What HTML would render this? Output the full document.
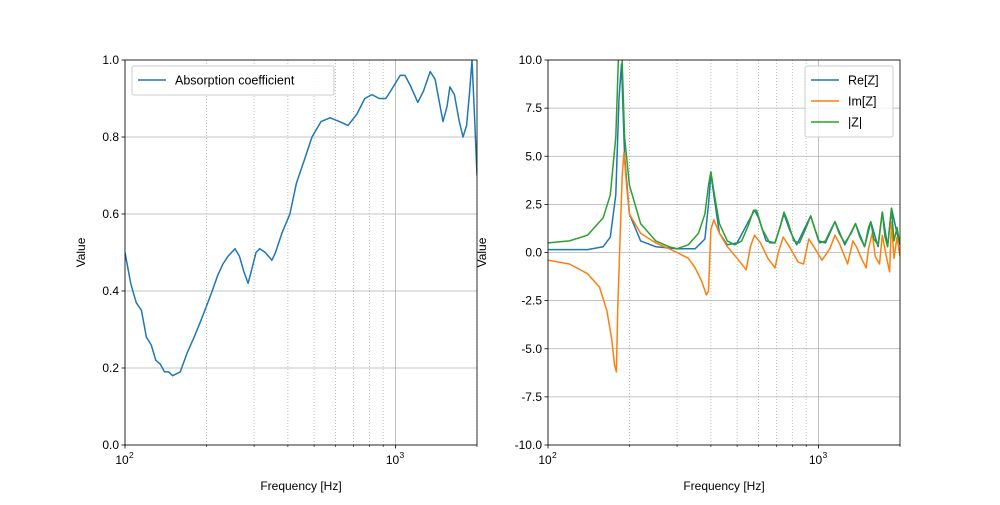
<!DOCTYPE html>
<html><head><meta charset="utf-8"><style>
body{margin:0;background:#fff}
svg{font-family:"Liberation Sans","DejaVu Sans",sans-serif}
</style></head><body>
<svg width="1000" height="500" viewBox="0 0 1000 500">
<rect width="1000" height="500" fill="#fff"/>
<defs>
<clipPath id="cl"><rect x="125" y="60" width="352" height="385"/></clipPath>
<clipPath id="cr"><rect x="548" y="60" width="352" height="385"/></clipPath>
</defs>
<g id="left"></g>
<g id="right"></g>
</svg>
<script>
const absFreq=[100,105,110,115,120,125,130,135,140,145,150,160,170,180,190,200,210,220,230,240,255,265,275,285,295,305,315,330,349,360,380,407,430,460,491,530,573,620,667,720,770,818,870,921,980,1040,1084,1140,1208,1270,1343,1400,1497,1550,1588,1650,1720,1775,1830,1880,1917,1960,2000];
const absVal=[0.50,0.42,0.37,0.35,0.28,0.26,0.22,0.21,0.19,0.19,0.18,0.19,0.24,0.28,0.32,0.36,0.40,0.44,0.47,0.49,0.51,0.49,0.45,0.42,0.46,0.50,0.51,0.50,0.48,0.50,0.55,0.60,0.68,0.74,0.80,0.84,0.85,0.84,0.83,0.86,0.90,0.91,0.90,0.90,0.93,0.96,0.96,0.93,0.89,0.92,0.97,0.95,0.84,0.88,0.93,0.91,0.84,0.80,0.83,0.92,1.0,0.85,0.70];
const zFreq=[100,120,140,160,170,178,183,187,192,200,220,250,280,300,330,360,380,392,400,410,430,460,490,520,550,575,590,620,660,690,720,745,770,810,850,900,935,970,1010,1060,1120,1150,1190,1250,1320,1370,1420,1480,1530,1560,1600,1660,1720,1760,1800,1860,1900,1950,2000];
const absZ=[0.5,0.6,0.9,1.8,3,6,11,11,6,3.5,1.5,0.6,0.3,0.2,0.4,1.0,2.0,3.5,4.2,3.2,1.5,0.6,0.4,0.6,1.4,2.2,2.2,1.2,0.5,0.5,1.3,2.1,1.6,0.6,0.5,1.3,1.9,1.2,0.5,0.6,1.3,1.6,1.0,0.5,1.0,1.5,0.8,0.3,1.3,1.6,0.7,0.4,2.1,0.8,0.3,2.3,0.6,1.3,0.4];
const reFreq=[100,140,160,170,178,183,187,192,200,220,250,300,350,380,392,400,410,430,460,500,560,580,600,640,690,745,780,830,935,1000,1060,1150,1250,1370,1480,1560,1660,1720,1800,1860,1950,2000];
const reZ=[0.15,0.15,0.3,0.8,3,8,9.8,5,2,0.6,0.3,0.2,0.2,0.7,2.5,4.1,3,1,0.4,0.5,1.8,2.2,1.8,0.6,0.5,2.0,1.2,0.4,1.9,0.6,0.5,1.6,0.4,1.5,0.3,1.6,0.3,2.1,0.3,2.3,1.0,0.4];
const imFreq=[100,120,140,155,165,172,176,179,181,184,188,191,195,200,220,250,280,300,330,350,370,385,392,400,410,430,460,500,540,560,580,610,650,690,710,740,780,840,880,920,960,1030,1100,1150,1200,1280,1340,1380,1440,1500,1530,1580,1620,1680,1720,1780,1830,1860,1900,1950,2000];
const imZ=[-0.4,-0.6,-1.1,-1.8,-3,-4.5,-5.8,-6.2,-3,0,4,5.2,3.5,2,1,0.5,0.2,0,-0.3,-0.8,-1.5,-2.2,-2.0,1.2,1.7,1.0,0.3,-0.3,-0.9,0.3,0.9,0.5,-0.3,-0.8,0.0,0.8,0.3,-0.5,-0.6,0.7,0.3,-0.4,0.2,0.9,0.4,-0.6,0.6,0.3,-0.3,-0.8,0.2,1.0,-0.2,-0.6,0.9,-0.2,-1.0,1.6,-0.3,0.8,-0.2];
const leftTicks=[0,0.2,0.4,0.6,0.8,1.0];
const rightTicks=[-10,-7.5,-5,-2.5,0,2.5,5,7.5,10];
const minorX=[200,300,400,500,600,700,800,900,2000];
const majorX=[100,1000];
const majorExp=['2','3'];

const NS="http://www.w3.org/2000/svg";
function mk(parent,tag,attrs){const e=document.createElementNS(NS,tag);for(const k in attrs)e.setAttribute(k,attrs[k]);parent.appendChild(e);return e;}
function axes(g,x0,clip,ymin,ymax,ticks,fmt,name){
  const W=352,T=60,B=445;
  const sx=f=>x0+(Math.log10(f)-2)/Math.log10(20)*W;
  const sy=v=>B-(v-ymin)/(ymax-ymin)*(B-T);
  minorX.forEach(f=>{const l=mk(g,'line',{x1:sx(f),x2:sx(f),y1:T,y2:B,stroke:'#b0b0b0','stroke-width':0.8,'stroke-dasharray':'1,2'});
    });
  majorX.forEach(f=>{const l=mk(g,'line',{x1:sx(f),x2:sx(f),y1:T,y2:B,stroke:'#b0b0b0','stroke-width':0.8});
    });
  ticks.forEach(v=>{const y=sy(v);
    const l=mk(g,'line',{x1:x0,x2:x0+W,y1:y,y2:y,stroke:'#b0b0b0','stroke-width':0.8});
    
    mk(g,'line',{x1:x0-3.5,x2:x0,y1:y,y2:y,stroke:'#000','stroke-width':0.8});
    const t=mk(g,'text',{x:x0-6,y:y+4,'font-size':12,'text-anchor':'end'});t.textContent=fmt(v);
    });
  majorX.forEach((f,i)=>{const x=sx(f);mk(g,'line',{x1:x,x2:x,y1:B,y2:B+3.5,stroke:'#000','stroke-width':0.8});
    const t=mk(g,'text',{x:x-3,y:B+19,'font-size':12,'text-anchor':'middle'});t.textContent='10';
    
    const s=mk(g,'text',{x:x+4,y:B+13,'font-size':8.5});s.textContent=majorExp[i];
    });
  minorX.forEach(f=>mk(g,'line',{x1:sx(f),x2:sx(f),y1:B,y2:B+2,stroke:'#000','stroke-width':0.6}));
  const xl=mk(g,'text',{x:x0+W/2,y:B+45,'font-size':12,'text-anchor':'middle'});xl.textContent='Frequency [Hz]';
  
  const yl=mk(g,'text',{x:0,y:0,'font-size':12,'text-anchor':'middle',transform:`translate(${name==='l'?85:486},${(T+B)/2}) rotate(-90)`});yl.textContent='Value';
  
  return {sx,sy,draw:(fs,vs,col,nm)=>{const d=fs.map((f,i)=>(i?'L':'M')+sx(f).toFixed(1)+','+sy(vs[i]).toFixed(1)).join('');
    const p=mk(g,'path',{d,fill:'none',stroke:col,'stroke-width':1.5,'stroke-linejoin':'round','clip-path':`url(#${clip})`});
    },
    frame:()=>{const r=mk(g,'rect',{x:x0,y:T,width:W,height:B-T,fill:'none',stroke:'#000','stroke-width':0.8});
    }};
}
function legend(g,x,y,w,entries){
  const r=mk(g,'rect',{x,y,width:w,height:8+entries.length*21,fill:'#fff','fill-opacity':0.8,stroke:'#ccc',rx:2});
  
  entries.forEach((e,i)=>{const yy=y+14+i*21;
    mk(g,'line',{x1:x+6,x2:x+34,y1:yy,y2:yy,stroke:e[1],'stroke-width':1.5});
    const t=mk(g,'text',{x:x+43,y:yy+4.5,'font-size':12.5});t.textContent=e[0];
    });
}
const L=document.getElementById('left'),R=document.getElementById('right');
const a=axes(L,125,'cl',0,1,leftTicks,v=>v.toFixed(1),'l');
a.draw(absFreq,absVal,'#1f77b4','absorption-line');a.frame();
legend(L,132,66,202,[['Absorption coefficient','#1f77b4']]);
const b=axes(R,548,'cr',-10,10,rightTicks,v=>v.toFixed(1),'r');
b.draw(reFreq,reZ,'#1f77b4','re-z-line');
b.draw(imFreq,imZ,'#ff7f0e','im-z-line');
b.draw(zFreq,absZ,'#2ca02c','abs-z-line');b.frame();
legend(R,805,66,88,[['Re[Z]','#1f77b4'],['Im[Z]','#ff7f0e'],['|Z|','#2ca02c']]);
</script>
</body></html>
